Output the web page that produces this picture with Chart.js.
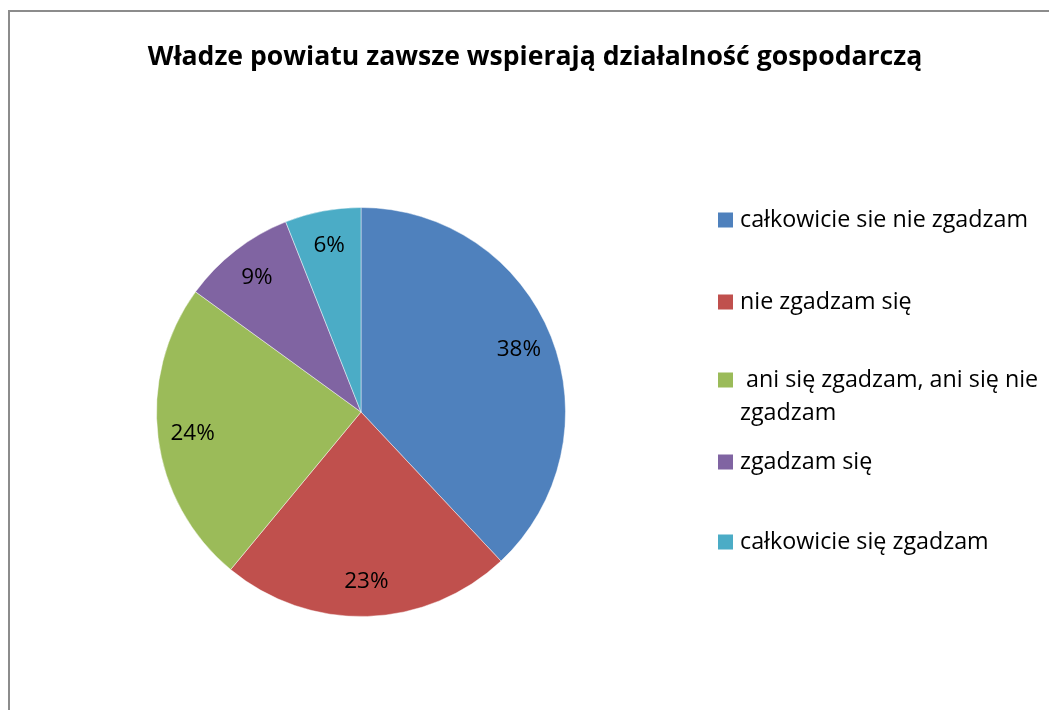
<!DOCTYPE html>
<html lang="pl">
<head>
<meta charset="utf-8">
<title>Władze powiatu zawsze wspierają działalność gospodarczą</title>
<script src="https://cdn.jsdelivr.net/npm/chart.js@4.4.1/dist/chart.umd.min.js"></script>
<style>
    html, body {
        margin: 0;
        padding: 0;
        background: #ffffff;
        overflow: hidden;
    }
    #frame {
        position: absolute;
        left: 8px;
        top: 10px;
        width: 1100px;
        height: 800px;
        border-left: 2px solid #8c8c8c;
        border-top: 2px solid #8c8c8c;
    }
    #chart {
        position: absolute;
        left: 0;
        top: 0;
    }
</style>
</head>
<body>
<div id="frame"></div>
<canvas id="chart" width="1049" height="710"></canvas>
<script>
const chartTitle = 'Władze powiatu zawsze wspierają działalność gospodarczą';

const answers = [
    'całkowicie sie nie zgadzam',
    'nie zgadzam się',
    ' ani się zgadzam, ani się nie zgadzam',
    'zgadzam się',
    'całkowicie się zgadzam'
];

const shares = [38, 23, 24, 9, 6];

const colours = ['#4F81BD', '#C0504D', '#9BBB59', '#8064A2', '#4BACC6'];

const fontFamily = '"Open Sans", "Noto Sans", sans-serif';

/**
 * Splits a label into lines no wider than maxWidth
 * @param ctx {CanvasRenderingContext2D}
 * @param text {string}
 * @param maxWidth {number}
 * @returns {string[]}
 */
function wrapText(ctx, text, maxWidth) {
    const words = text.split(' ');
    let lines = [];
    let line = '';
    for (let i = 0; i < words.length; i++) {
        const test = i === 0 ? words[i] : line + ' ' + words[i];
        if (line.trim() !== '' && ctx.measureText(test).width > maxWidth) {
            lines.push(line);
            line = words[i];
        } else {
            line = test;
        }
    }
    lines.push(line);
    return lines;
}

// title, percent labels and the side legend
const decorations = {
    id: 'decorations',
    afterDatasetsDraw(chart) {
        const ctx = chart.ctx;
        const arcs = chart.getDatasetMeta(0).data;
        const values = chart.data.datasets[0].data;

        ctx.save();
        ctx.fillStyle = '#000000';

        // title
        ctx.font = 'bold 26.6px ' + fontFamily;
        ctx.textAlign = 'center';
        ctx.textBaseline = 'alphabetic';
        ctx.fillText(chartTitle, 535, 65);

        // percent labels inside the slices
        ctx.font = '22.5px ' + fontFamily;
        ctx.textBaseline = 'middle';
        arcs.forEach((arc, i) => {
            const p = arc.getProps(['x', 'y', 'startAngle', 'endAngle', 'outerRadius'], true);
            const mid = (p.startAngle + p.endAngle) / 2;
            const r = p.outerRadius * 0.83;
            ctx.fillText(values[i] + '%', p.x + Math.cos(mid) * r, p.y + Math.sin(mid) * r);
        });

        // legend
        const rows = [220, 302, 380, 462, 542];
        const lineHeight = 33;
        ctx.font = '23.3px ' + fontFamily;
        ctx.textAlign = 'left';
        chart.data.labels.forEach((label, i) => {
            ctx.fillStyle = colours[i];
            ctx.fillRect(718, rows[i] - 7.5, 15, 15);
            ctx.fillStyle = '#000000';
            const lines = wrapText(ctx, label, 305);
            lines.forEach((line, j) => {
                ctx.fillText(line, 740, rows[i] + j * lineHeight);
            });
        });

        ctx.restore();
    }
};

new Chart(document.getElementById('chart'), {
    type: 'pie',
    data: {
        labels: answers,
        datasets: [
            {
                data: shares,
                backgroundColor: colours,
                borderColor: 'rgba(255, 255, 255, 0.45)',
                borderWidth: 1
            }
        ]
    },
    options: {
        responsive: false,
        animation: false,
        layout: {
            padding: {
                left: 156,
                top: 207,
                right: 483,
                bottom: 93
            }
        },
        plugins: {
            legend: {
                display: false
            },
            title: {
                display: false
            },
            tooltip: {
                enabled: false
            }
        }
    },
    plugins: [decorations]
});
</script>
</body>
</html>
